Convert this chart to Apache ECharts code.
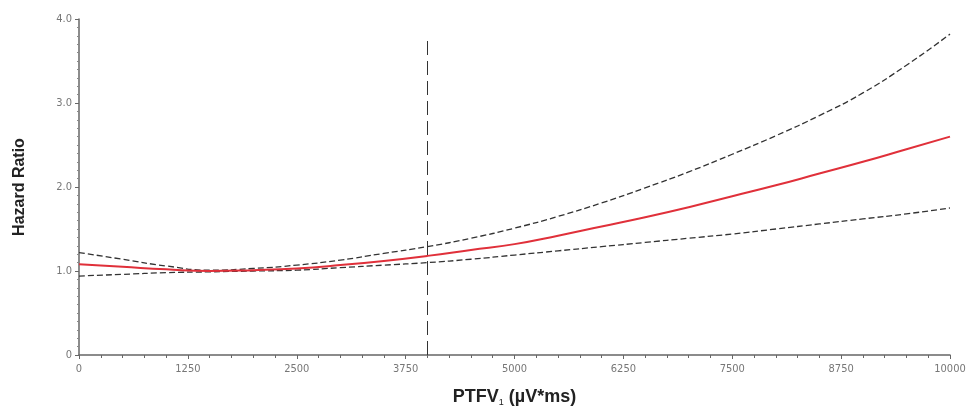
<!DOCTYPE html>
<html>
<head>
<meta charset="utf-8">
<script src="https://cdn.jsdelivr.net/npm/echarts@6/dist/echarts.min.js"></script>
<style>
  html, body { margin: 0; padding: 0; background: #fff; }
  #main { width: 972px; height: 416px; }
</style>
</head>
<body>
<div id="main"></div>
<script>
var dom = document.getElementById("main");
var myChart = echarts.init(dom);

// x positions (PTFV1, µV*ms)
var ptfv = [0, 500, 1000, 1500, 2000, 2500, 3000, 3500, 4000, 4500, 5000,
            5500, 6000, 6500, 7000, 7500, 8000, 8500, 9000, 9500, 10000];
// hazard ratio estimate (red)
var hr = [1.08, 1.05, 1.02, 1.00, 1.01, 1.03, 1.07, 1.12, 1.18, 1.25, 1.32,
          1.42, 1.53, 1.64, 1.76, 1.89, 2.02, 2.16, 2.30, 2.45, 2.60];
// confidence bounds (dashed)
var upper = [1.22, 1.14, 1.06, 1.01, 1.03, 1.07, 1.13, 1.21, 1.29, 1.39, 1.51,
             1.65, 1.81, 1.99, 2.18, 2.39, 2.61, 2.85, 3.12, 3.45, 3.82];
var lower = [0.94, 0.96, 0.98, 0.99, 1.00, 1.01, 1.04, 1.07, 1.10, 1.14, 1.19,
             1.24, 1.29, 1.34, 1.39, 1.44, 1.50, 1.56, 1.62, 1.68, 1.75];
var cutoff = 4000;
var cutoffTop = 3.75;

function pairs(xs, ys) {
    return xs.map(function (x, i) { return [x, ys[i]]; });
}

var option = {
    animation: false,
    grid: { left: 79, right: 22, top: 19, bottom: 61 },
    xAxis: {
        type: 'value',
        min: 0,
        max: 10000,
        interval: 1250,
        name: '{b|PTFV}{s|1}{b| (µV*ms)}',
        nameLocation: 'middle',
        nameGap: 33,
        nameTextStyle: {
            rich: {
                b: { fontSize: 18, fontWeight: 'bold', color: '#222', fontFamily: 'Liberation Sans' },
                s: { fontSize: 9, color: '#222', verticalAlign: 'bottom', padding: [10, 0, 0, 0] }
            }
        },
        axisLine: { lineStyle: { color: '#666', width: 1.5 } },
        axisTick: { length: 4, lineStyle: { color: '#666' } },
        minorTick: { show: true, splitNumber: 5, length: 3, lineStyle: { color: '#666' } },
        axisLabel: {
            color: '#777', fontSize: 11, fontFamily: 'DejaVu Sans Condensed', margin: 9,
            formatter: function (v) { return String(v); }
        },
        splitLine: { show: false }
    },
    yAxis: {
        type: 'value',
        min: 0,
        max: 4,
        interval: 1,
        name: 'Hazard Ratio',
        nameLocation: 'middle',
        nameGap: 51,
        nameTextStyle: { fontSize: 16, fontWeight: 'bold', color: '#222', fontFamily: 'Liberation Sans' },
        axisLine: { show: true, lineStyle: { color: '#666', width: 1.5 } },
        axisTick: { length: 4, lineStyle: { color: '#666' } },
        minorTick: { show: true, splitNumber: 10, length: 2, lineStyle: { color: '#888' } },
        axisLabel: {
            color: '#777', fontSize: 11, fontFamily: 'DejaVu Sans Condensed', margin: 7,
            formatter: function (v) { return v === 0 ? '0' : v.toFixed(1); }
        },
        splitLine: { show: false }
    },
    series: [
        {
            name: 'upper',
            type: 'line',
            smooth: true,
            symbol: 'none',
            data: pairs(ptfv, upper),
            lineStyle: { color: '#333', width: 1.3, type: [6, 3] },
            markLine: {
                silent: true,
                symbol: 'none',
                label: { show: false },
                lineStyle: { color: '#333', width: 1, type: [14, 6] },
                data: [[{ coord: [cutoff, 0] }, { coord: [cutoff, cutoffTop] }]]
            }
        },
        {
            name: 'lower',
            type: 'line',
            smooth: true,
            symbol: 'none',
            data: pairs(ptfv, lower),
            lineStyle: { color: '#333', width: 1.3, type: [6, 3] }
        },
        {
            name: 'HR',
            type: 'line',
            smooth: true,
            symbol: 'none',
            data: pairs(ptfv, hr),
            lineStyle: { color: '#e0303a', width: 2 }
        }
    ]
};

if (option && typeof option === 'object') {
    myChart.setOption(option);
}
</script>
</body>
</html>
